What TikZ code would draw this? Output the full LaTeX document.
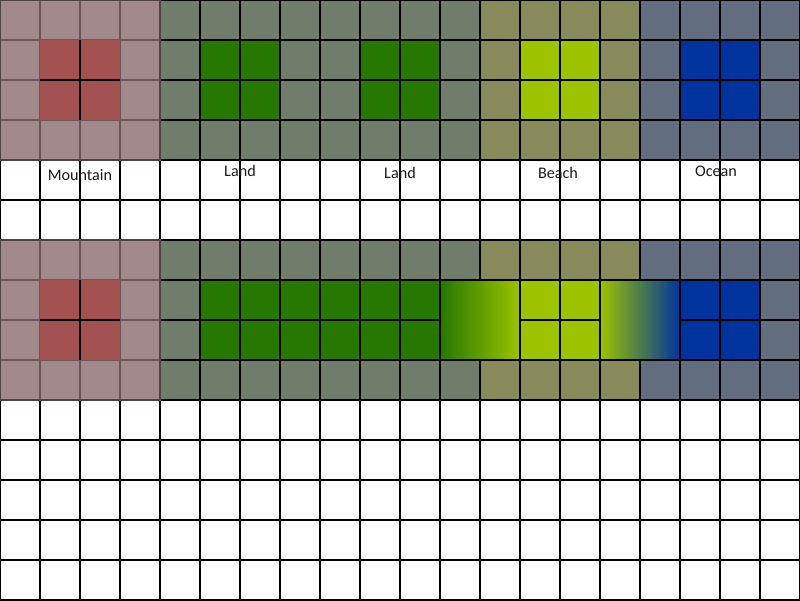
\documentclass[tikz,border=0pt]{standalone}
\usepackage{fontspec}
\setmainfont{Carlito}
\usetikzlibrary{positioning}
\definecolor{cmount}{HTML}{896C6E}
\definecolor{cred}{HTML}{A35050}
\definecolor{cland}{HTML}{6F7D6A}
\definecolor{cgreen}{HTML}{267800}
\definecolor{cbeach}{HTML}{888A5C}
\definecolor{clime}{HTML}{9CC200}
\definecolor{cocean}{HTML}{626E80}
\definecolor{cblue}{HTML}{00339E}
\definecolor{cedge}{HTML}{4E4446}
\tikzset{
  every picture/.style={font=\fontsize{11.5}{13}\selectfont},
  gridline/.style={draw=black, line width=0.8pt},
  mountain/.style={draw=cedge, fill=cmount, fill opacity=0.8, line width=0.8pt},
  tag/.style={inner sep=0pt, text=black!90},
}

\begin{document}
\begin{tikzpicture}[x=1cm, y=-1cm]
  \useasboundingbox (0,0) rectangle (20,15);
  % terrain blocks, plain and blended
  \foreach \row in {0,6} {
    \fill[cland] (4,\row) rectangle (12,\row+4);
    \fill[cbeach] (12,\row) rectangle (16,\row+4);
    \fill[cocean] (16,\row) rectangle (20,\row+4);
    \fill[clime] (13,\row+1) rectangle (15,\row+3);
    \fill[cblue] (17,\row+1) rectangle (19,\row+3);
  }
  \fill[cgreen] (5,1) rectangle (7,3);
  \fill[cgreen] (9,1) rectangle (11,3);
  \fill[cgreen] (5,7) rectangle (11,9);
  \draw[gridline] (0,0) grid (20,15);
  \draw[gridline, left color=cgreen, right color=clime] (11,7) rectangle (13,9);
  \draw[gridline, left color=clime, right color=cblue] (15,7) rectangle (17,9);
  % mountain overlay
  \foreach \row in {0,6} {
    \draw[mountain] (0,\row) rectangle (4,\row+4);
    \fill[cred] (1,\row+1) rectangle (3,\row+3);
    \draw[gridline] (2,\row+1) -- (2,\row+3) (1,\row+2) -- (3,\row+2);
  }
  % labels
  \foreach \name/\x/\y/\txt in {mount/2/4.38/Mountain, landa/6/4.28/Land,
                                landb/10/4.33/Land, beach/13.95/4.33/Beach,
                                ocean/17.9/4.28/Ocean} {
    \node[tag] (lbl-\name) at (\x,\y) {\txt};
  }
\end{tikzpicture}
\end{document}
